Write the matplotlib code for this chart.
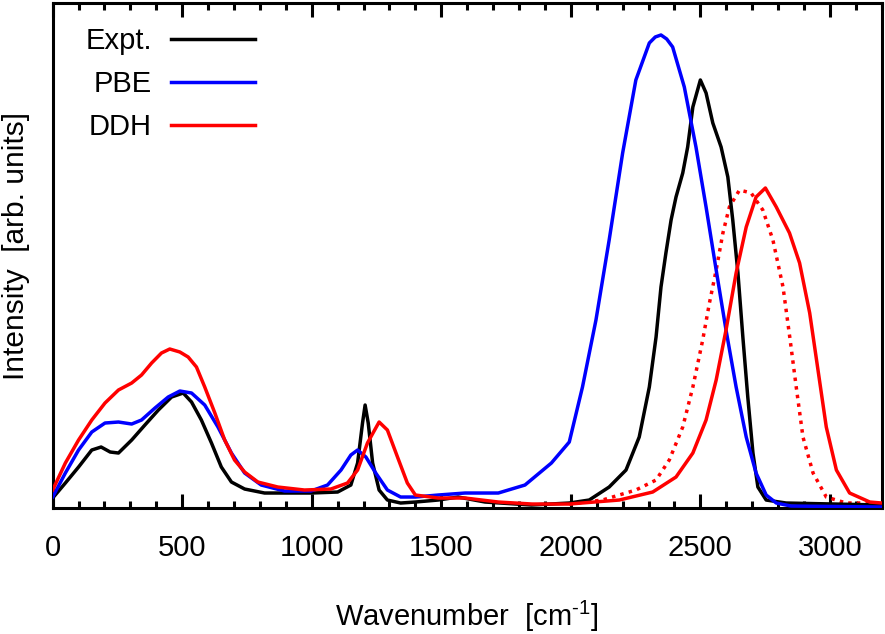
import matplotlib
matplotlib.use("Agg")
import matplotlib.pyplot as plt
from matplotlib.ticker import MultipleLocator

plt.rcParams['font.family'] = ['Liberation Sans', 'DejaVu Sans']
plt.rcParams['mathtext.fontset'] = 'custom'
plt.rcParams['mathtext.rm'] = 'Liberation Sans'
plt.rcParams['mathtext.it'] = 'Liberation Sans:italic'

# ---- data (wavenumber, intensity in arbitrary units) ----
expt_x = [0, 49, 100, 151, 187, 222, 254, 305, 356, 408, 459, 504, 536, 574, 613, 651, 690,
          741, 818, 997, 1100, 1151, 1177, 1196, 1206, 1218, 1235, 1260, 1292, 1343, 1400,
          1488, 1565, 1669, 1848, 1994, 2071, 2148, 2213, 2264, 2303, 2329, 2348, 2367, 2387,
          2406, 2432, 2451, 2471, 2500, 2522, 2548, 2580, 2606, 2625, 2645, 2664, 2683, 2703,
          2722, 2754, 2831, 3200]
expt_y = [10, 25, 41, 58, 61, 56, 55, 68, 83, 98, 111, 115, 106, 88, 65, 41, 26,
          19, 15, 15, 16, 23, 45, 85, 103, 85, 45, 18, 8, 5, 6,
          8, 11, 6, 3, 5, 8, 21, 38, 71, 121, 171, 221, 255, 288,
          311, 335, 361, 401, 428, 415, 385, 361, 331, 288, 235, 171, 111, 55,
          21, 8, 5, 3]

pbe_x = [0, 49, 100, 151, 202, 254, 305, 343, 395, 446, 491, 536, 587, 638, 690, 741, 805,
         895, 997, 1061, 1113, 1151, 1177, 1209, 1247, 1292, 1343, 1400, 1488, 1592, 1720,
         1823, 1925, 1994, 2045, 2097, 2148, 2200, 2251, 2303, 2326, 2348, 2370, 2393, 2438,
         2483, 2522, 2561, 2599, 2638, 2677, 2715, 2754, 2793, 2850, 3200]
pbe_y = [11, 35, 58, 76, 85, 86, 84, 88, 100, 111, 117, 115, 103, 81, 55, 35, 23,
         17, 17, 23, 38, 53, 58, 51, 35, 18, 11, 11, 13, 15, 15,
         23, 45, 66, 121, 188, 268, 355, 428, 465, 471, 473, 469, 461, 421,
         361, 301, 238, 178, 121, 71, 35, 13, 5, 2, 1]

ddh_x = [0, 49, 100, 151, 202, 254, 305, 343, 382, 420, 452, 491, 523, 555, 587, 626, 664,
         702, 741, 792, 869, 972, 1074, 1138, 1177, 1215, 1260, 1292, 1331, 1369, 1400, 1488,
         1592, 1720, 1850, 1994, 2187, 2316, 2406, 2471, 2522, 2561, 2599, 2638, 2677, 2715,
         2751, 2793, 2844, 2883, 2922, 2954, 2986, 3025, 3076, 3154, 3200]
ddh_y = [18, 45, 68, 88, 105, 118, 125, 133, 145, 155, 159, 156, 151, 141, 121, 95, 68,
         48, 36, 26, 21, 18, 19, 25, 38, 65, 86, 78, 51, 25, 13, 10,
         10, 6, 4, 4, 8, 16, 31, 55, 88, 128, 178, 235, 281, 311,
         320, 301, 275, 245, 195, 138, 81, 38, 15, 6, 5]

ddh2_x = [1994, 2122, 2251, 2329, 2380, 2432, 2471, 2509, 2535, 2561, 2587, 2612, 2651,
          2696, 2741, 2780, 2819, 2845, 2870, 2896, 2935, 2986, 3063, 3200]
ddh2_y = [4, 8, 18, 28, 48, 81, 121, 168, 205, 238, 275, 301, 318,
          315, 298, 268, 221, 171, 121, 71, 35, 11, 5, 5]

legend_labels = ["Expt.", "PBE", "DDH"]
xticks = [0, 500, 1000, 1500, 2000, 2500, 3000]

# ---- figure ----
fig = plt.figure(figsize=(8.85, 6.34), dpi=100)
ax = fig.add_axes([0.0595, 0.1987, 0.9368, 0.7966])

lw = 2.5
ax.plot(ddh2_x, ddh2_y, color='#ff0000', lw=lw, linestyle=(0, (1.0, 1.5)),
        dash_capstyle='butt', zorder=2)
l1, = ax.plot(expt_x, expt_y, color='black', lw=lw, solid_joinstyle='round', zorder=3)
l2, = ax.plot(pbe_x, pbe_y, color='#0000ff', lw=lw, solid_joinstyle='round', zorder=3)
l3, = ax.plot(ddh_x, ddh_y, color='#ff0000', lw=lw, solid_joinstyle='round', zorder=4)

ax.set_xlim(0, 3200)
ax.set_ylim(0, 505)
ax.set_xticks(xticks)
ax.set_xticklabels([str(t) for t in xticks])
ax.xaxis.set_minor_locator(MultipleLocator(100))
ax.set_yticks([])

for s in ax.spines.values():
    s.set_linewidth(2.2)

ax.tick_params(axis='x', which='both', direction='in', top=True, bottom=True,
               labelsize=21, width=2.2, pad=19)
ax.tick_params(axis='x', which='major', length=10)
ax.tick_params(axis='x', which='minor', length=5)

ax.set_xlabel("Wavenumber  [cm$^{\\mathregular{\u2010}1}$]", fontsize=21)
ax.xaxis.set_label_coords(0.5, -0.180)
ax.set_ylabel("Intensity  [arb. units]", fontsize=21.5)
ax.yaxis.set_label_coords(-0.027, 0.519)

leg = ax.legend([l1, l2, l3], legend_labels, loc='upper right',
                bbox_to_anchor=(0.244, 0.953), frameon=False, fontsize=21,
                markerfirst=False, handlelength=2.88, handletextpad=0.65,
                labelspacing=0.52, borderaxespad=0.0, borderpad=0.0)

fig.savefig("out.png", dpi=100)
